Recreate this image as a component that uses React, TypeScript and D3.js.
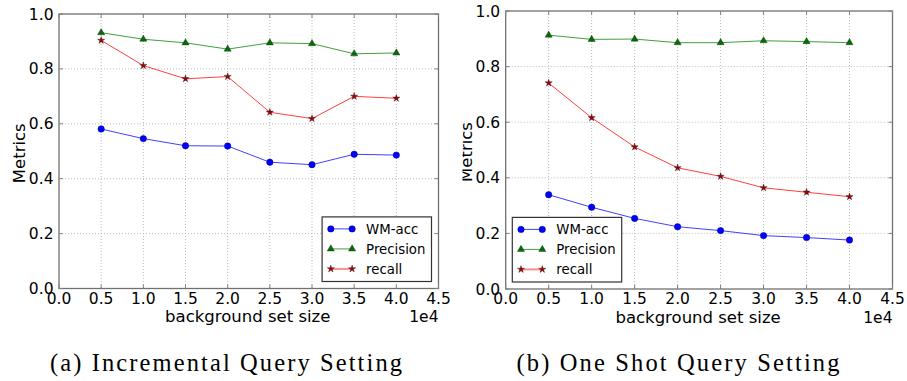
import React from "react";
import * as d3 from "d3";

// background set size (x values)
const sizes = [5000, 10000, 15000, 20000, 25000, 30000, 35000, 40000];
const xTicks = [0, 5000, 10000, 15000, 20000, 25000, 30000, 35000, 40000, 45000];
const yTicks = [0, 0.2, 0.4, 0.6, 0.8, 1.0];

// (a) incremental query setting
const incWmAcc = [0.581, 0.546, 0.52, 0.519, 0.46, 0.451, 0.489, 0.486];
const incPrecision = [0.932, 0.908, 0.895, 0.872, 0.895, 0.892, 0.855, 0.858];
const incRecall = [0.904, 0.812, 0.764, 0.772, 0.642, 0.619, 0.7, 0.693];

// (b) one shot query setting
const oneWmAcc = [0.339, 0.294, 0.254, 0.224, 0.21, 0.192, 0.185, 0.176];
const onePrecision = [0.913, 0.898, 0.899, 0.886, 0.886, 0.893, 0.89, 0.886];
const oneRecall = [0.741, 0.616, 0.511, 0.436, 0.405, 0.364, 0.348, 0.332];

const seriesNames = ["WM-acc", "Precision", "recall"];

const SANS = "'DejaVu Sans', sans-serif";

const styles = [
  { line: "#0000ff", fill: "#0000ff", marker: "circle" },
  { line: "#008000", fill: "#007000", marker: "triangle" },
  { line: "#ff0000", fill: "#a00000", marker: "star" },
];

function Marker({ kind, x, y, fill }: any) {
  if (kind === "circle") {
    return <circle cx={x} cy={y} r={3.2} fill={fill} stroke="#00008b" strokeWidth={0.5} />;
  }
  const sym = kind === "triangle" ? d3.symbolTriangle : d3.symbolStar;
  const size = kind === "triangle" ? 22 : 16;
  const p = d3.symbol(sym, size)()!;
  return (
    <path
      d={p}
      transform={`translate(${x},${y})`}
      fill={fill}
      stroke="#222"
      strokeWidth={0.4}
    />
  );
}

function Panel(props: any) {
  const { left, right, top, bottom, values, caption, captionX, captionW, legendLeft, clipId, clipX } = props;
  const x = d3.scaleLinear().domain([0, 45000]).range([left, right]);
  const y = d3.scaleLinear().domain([0, 1]).range([bottom, top]);
  const line = d3
    .line<number>()
    .x((_, i) => x(sizes[i]))
    .y((v) => y(v));

  const legW = 109.4;
  const legH = 64.6;
  const legX = legendLeft ? left + 6.6 : right - 7 - legW;
  const legY = bottom - 7 - legH;

  return (
    <g>
      {/* grid */}
      {xTicks.slice(1, -1).map((t) => (
        <line key={"gx" + t} x1={x(t)} x2={x(t)} y1={top} y2={bottom}
          stroke="#aaa" strokeWidth={0.8} strokeDasharray="1,2" />
      ))}
      {yTicks.slice(1, -1).map((t) => (
        <line key={"gy" + t} x1={left} x2={right} y1={y(t)} y2={y(t)}
          stroke="#aaa" strokeWidth={0.8} strokeDasharray="1,2" />
      ))}

      {/* series */}
      {values.map((vals: number[], si: number) => (
        <g key={si}>
          <path d={line(vals)!} fill="none" stroke={styles[si].line} strokeWidth={1} strokeOpacity={0.75} />
          {vals.map((v, i) => (
            <Marker key={i} kind={styles[si].marker} x={x(sizes[i])} y={y(v)} fill={styles[si].fill} />
          ))}
        </g>
      ))}

      {/* frame */}
      <rect x={left} y={top} width={right - left} height={bottom - top}
        fill="none" stroke="#707070" strokeWidth={1.3} />
      {xTicks.map((t) => (
        <g key={"tx" + t}>
          <line x1={x(t)} x2={x(t)} y1={bottom} y2={bottom - 4} stroke="#808080" />
          <line x1={x(t)} x2={x(t)} y1={top} y2={top + 4} stroke="#808080" />
        </g>
      ))}
      {yTicks.map((t) => (
        <g key={"ty" + t}>
          <line x1={left} x2={left + 4} y1={y(t)} y2={y(t)} stroke="#808080" />
          <line x1={right} x2={right - 4} y1={y(t)} y2={y(t)} stroke="#808080" />
        </g>
      ))}

      {/* tick labels */}
      <g fontFamily={SANS} fontSize={15.5} fill="#000">
        {xTicks.map((t) => (
          <text key={"lx" + t} x={x(t)} y={bottom + 15} textAnchor="middle">
            {(t / 10000).toFixed(1)}
          </text>
        ))}
        {yTicks.map((t) => (
          <text key={"ly" + t} x={left - 5.5} y={y(t) + 5.5} textAnchor="end">
            {t.toFixed(1)}
          </text>
        ))}
      </g>

      {/* axis labels */}
      <text x={(left + right) / 2 - 1} y={bottom + 33.5} textAnchor="middle"
        fontFamily={SANS} fontSize={16.5}>background set size</text>
      <text x={right} y={bottom + 33.5} textAnchor="end"
        fontFamily={SANS} fontSize={15.5}>1e4</text>
      <clipPath id={clipId}>
        <rect x={clipX} y={0} width={200} height={381} />
      </clipPath>
      <g clipPath={`url(#${clipId})`}>
        <text transform={`translate(${left - 34},${(top + bottom) / 2 + 2}) rotate(-90)`}
          textAnchor="middle" fontFamily={SANS} fontSize={16.5}>Metrics</text>
      </g>

      {/* legend */}
      <rect x={legX} y={legY} width={legW} height={legH} fill="#fff" stroke="#333" strokeWidth={1.2} />
      {seriesNames.map((name, si) => {
        const ly = legY + 12 + si * 20;
        const lx0 = legX + 8.7;
        const lx1 = legX + 30;
        return (
          <g key={name}>
            <line x1={lx0} x2={lx1} y1={ly} y2={ly} stroke={styles[si].line}
              strokeWidth={si === 2 ? 2 : 1} strokeOpacity={si === 2 ? 0.45 : 0.75} />
            <Marker kind={styles[si].marker} x={lx0} y={ly} fill={styles[si].fill} />
            <Marker kind={styles[si].marker} x={lx1} y={ly} fill={styles[si].fill} />
            <text x={legX + 44} y={ly + 4.8} fontFamily={SANS} fontSize={13.3}>{name}</text>
          </g>
        );
      })}

      {/* caption */}
      <text x={captionX - captionW / 2} y={371} textLength={captionW} lengthAdjust="spacing"
        fontFamily="'Liberation Serif', serif" fontSize={24.5}>{caption}</text>
    </g>
  );
}

export default function App() {
  return (
    <svg width={907} height={381} style={{ position: "absolute", left: 0, top: 0, background: "#fff" }}>
      <rect width={907} height={381} fill="#fff" />
      <Panel left={59} right={438.5} top={14} bottom={288.5}
        values={[incWmAcc, incPrecision, incRecall]}
        caption="(a) Incremental Query Setting" captionX={226} captionW={352}
        legendLeft={false} clipId="clipA" clipX={0} />
      <Panel left={505.7} right={892.5} top={11} bottom={289}
        values={[oneWmAcc, onePrecision, oneRecall]}
        caption="(b) One Shot Query Setting" captionX={678} captionW={323}
        legendLeft={true} clipId="clipB" clipX={462.5} />
    </svg>
  );
}
